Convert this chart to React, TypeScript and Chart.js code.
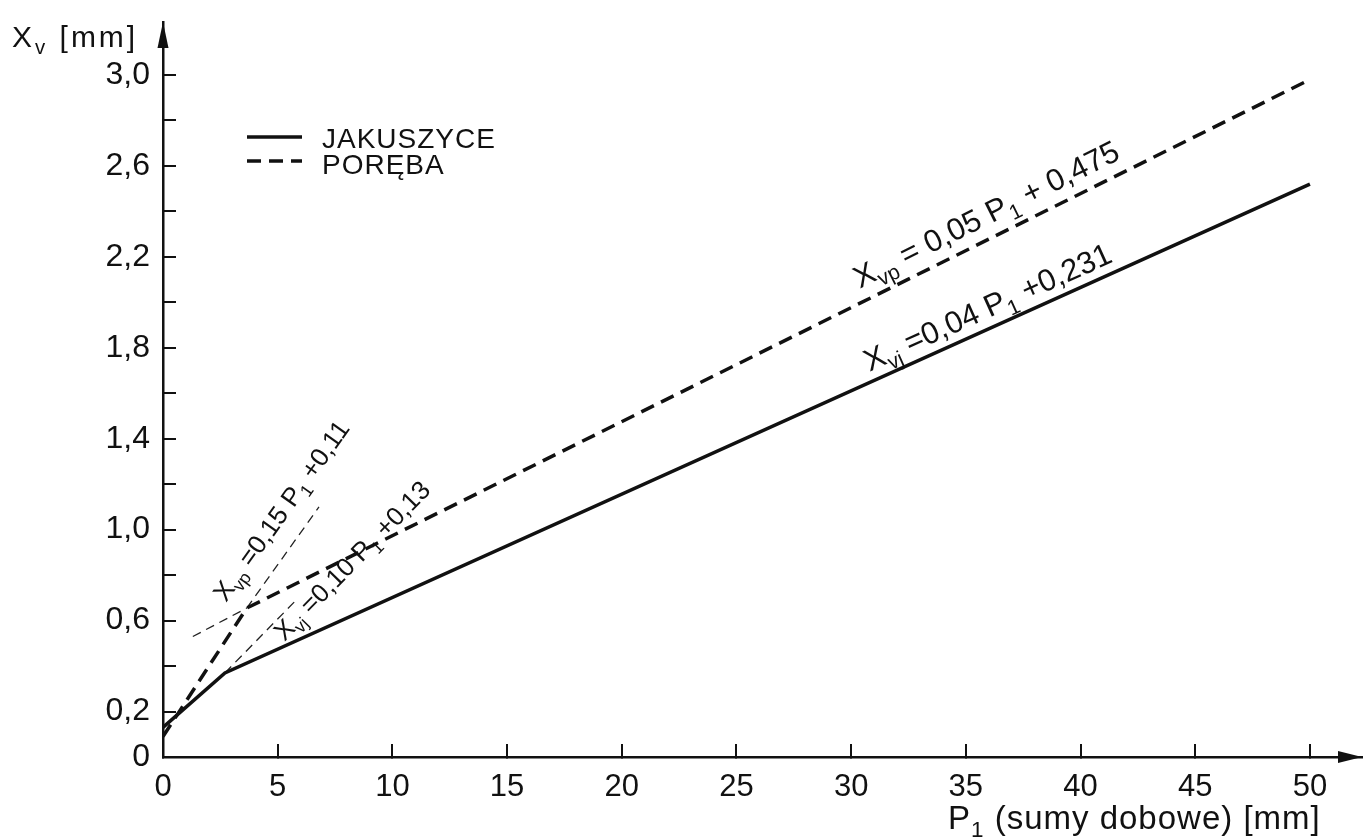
import React, { useEffect, useRef } from 'react';
import { Chart, registerables } from 'chart.js';

Chart.register(...registerables);

// ---- data ----
const xTickValues = [0, 5, 10, 15, 20, 25, 30, 35, 40, 45, 50];
const yTickValues = [0, 0.2, 0.4, 0.6, 0.8, 1.0, 1.2, 1.4, 1.6, 1.8, 2.0, 2.2, 2.4, 2.6, 2.8, 3.0];
const yLabeledValues = [0, 0.2, 0.6, 1.0, 1.4, 1.8, 2.2, 2.6, 3.0];

// Jakuszyce (solid)
const jakuszyceP = [0, 2.7, 50];
const jakuszyceX = [0.13, 0.37, 2.52];
// Poręba (dashed)
const porebaP = [0, 3.65, 50];
const porebaX = [0.09, 0.655, 2.98];
// thin dashed construction lines
const porebaSteepExtP = [3.65, 6.8];
const porebaSteepExtX = [0.655, 1.1];
const porebaFlatExtP = [1.3, 3.65];
const porebaFlatExtX = [0.53, 0.655];
const jakuszyceSteepExtP = [2.7, 5.9];
const jakuszyceSteepExtX = [0.37, 0.7];

const legendLabels = ['JAKUSZYCE', 'PORĘBA'];

type Part = [string, '' | 'sub'];
const eqPorebaFlat: Part[] = [['X', ''], ['vp', 'sub'], [' = 0,05 ', ''], ['P', ''], ['1', 'sub'], [' + 0,475', '']];
const eqJakFlat: Part[] = [['X', ''], ['vj', 'sub'], [' =0,04 ', ''], ['P', ''], ['1', 'sub'], [' +0,231', '']];
const eqPorebaSteep: Part[] = [['X', ''], ['vp', 'sub'], [' =0,15 ', ''], ['P', ''], ['1', 'sub'], [' +0,11', '']];
const eqJakSteep: Part[] = [['X', ''], ['vj', 'sub'], [' =0,10 ', ''], ['P', ''], ['1', 'sub'], [' +0,13', '']];
const yTitle: Part[] = [['X', ''], ['v', 'sub'], [' [mm]', '']];
const xTitle: Part[] = [['P', ''], ['1', 'sub'], [' (sumy dobowe) [mm]', '']];

const FONT = '"Liberation Sans", Arial, sans-serif';

const pts = (xs: number[], ys: number[]) => xs.map((x, i) => ({ x, y: ys[i] }));

function drawRich(ctx: CanvasRenderingContext2D, parts: Part[], x: number, y: number, angle: number, size: number, spacing = 0) {
  ctx.save();
  ctx.translate(x, y);
  ctx.rotate(angle);
  ctx.textBaseline = 'alphabetic';
  ctx.textAlign = 'left';
  ctx.fillStyle = '#111';
  (ctx as any).letterSpacing = spacing + 'px';
  let cx = 0;
  for (const [t, kind] of parts) {
    const fs = kind === 'sub' ? size * 0.68 : size;
    const dy = kind === 'sub' ? size * 0.24 : 0;
    ctx.font = `${fs}px ${FONT}`;
    ctx.fillText(t, cx, dy);
    cx += ctx.measureText(t).width;
  }
  ctx.restore();
}

const decorPlugin = {
  id: 'decor',
  afterDraw(chart: any) {
    const ctx: CanvasRenderingContext2D = chart.ctx;
    const xs = chart.scales.x;
    const ys = chart.scales.y;
    const ca = chart.chartArea;
    const px = (v: number) => xs.getPixelForValue(v);
    const py = (v: number) => ys.getPixelForValue(v);

    ctx.save();
    ctx.fillStyle = '#111';
    ctx.strokeStyle = '#111';
    // y arrow
    ctx.beginPath();
    ctx.moveTo(ca.left, ca.top);
    ctx.lineTo(ca.left + 5.5, ca.top + 26);
    ctx.lineTo(ca.left - 5.5, ca.top + 26);
    ctx.closePath();
    ctx.fill();
    // x arrow
    ctx.beginPath();
    ctx.moveTo(ca.right, ca.bottom);
    ctx.lineTo(ca.right - 24, ca.bottom - 6);
    ctx.lineTo(ca.right - 24, ca.bottom + 6);
    ctx.closePath();
    ctx.fill();

    // legend
    ctx.lineWidth = 3.5;
    ctx.setLineDash([]);
    ctx.beginPath();
    ctx.moveTo(247, 137);
    ctx.lineTo(302, 137);
    ctx.stroke();
    ctx.setLineDash([14, 8]);
    ctx.beginPath();
    ctx.moveTo(247, 161);
    ctx.lineTo(302, 161);
    ctx.stroke();
    ctx.setLineDash([]);
    ctx.font = `28px ${FONT}`;
    (ctx as any).letterSpacing = '1px';
    ctx.textAlign = 'left';
    ctx.textBaseline = 'alphabetic';
    ctx.fillText(legendLabels[0], 322, 148);
    ctx.fillText(legendLabels[1], 322, 174);
    (ctx as any).letterSpacing = '0px';
    ctx.restore();

    // axis titles
    drawRich(ctx, yTitle, 12, 47, 0, 30, 3);
    drawRich(ctx, xTitle, 948, 829, 0, 33, 1);

    // equations along lines
    const ang = (x1: number, y1: number, x2: number, y2: number) =>
      Math.atan2(py(y2) - py(y1), px(x2) - px(x1));
    const eqs = [
      { parts: eqPorebaFlat, at: [30.38, 2.06], a: ang(porebaP[1], porebaX[1], porebaP[2], porebaX[2]), size: 31 },
      { parts: eqJakFlat, at: [30.8, 1.695], a: ang(jakuszyceP[1], jakuszyceX[1], jakuszyceP[2], jakuszyceX[2]), size: 31 },
      { parts: eqPorebaSteep, at: [2.75, 0.677], a: ang(porebaSteepExtP[0], porebaSteepExtX[0], porebaSteepExtP[1], porebaSteepExtX[1]), size: 26 },
      { parts: eqJakSteep, at: [5.3, 0.506], a: ang(jakuszyceSteepExtP[0], jakuszyceSteepExtX[0], jakuszyceSteepExtP[1], jakuszyceSteepExtX[1]), size: 26 },
    ];
    for (const e of eqs) drawRich(ctx, e.parts, px(e.at[0]), py(e.at[1]), e.a, e.size);
  },
};

export default function App() {
  const ref = useRef<HTMLCanvasElement>(null);
  useEffect(() => {
    if (!ref.current) return;
    const thin = { borderColor: '#222', borderWidth: 1.3, borderDash: [9, 6], pointRadius: 0, fill: false };
    const chart = new Chart(ref.current, {
      type: 'line',
      data: {
        datasets: [
          { label: legendLabels[0], data: pts(jakuszyceP, jakuszyceX), borderColor: '#111', borderWidth: 3.5, pointRadius: 0, fill: false },
          { label: legendLabels[1], data: pts(porebaP, porebaX), borderColor: '#111', borderWidth: 3.5, borderDash: [14, 8], pointRadius: 0, fill: false },
          { label: 'ext1', data: pts(porebaSteepExtP, porebaSteepExtX), ...thin },
          { label: 'ext2', data: pts(porebaFlatExtP, porebaFlatExtX), ...thin },
          { label: 'ext3', data: pts(jakuszyceSteepExtP, jakuszyceSteepExtX), ...thin },
        ],
      },
      options: {
        animation: false,
        responsive: false,
        devicePixelRatio: 1,
        layout: { padding: { top: 22, right: 2, left: 0, bottom: 0 } },
        plugins: { legend: { display: false }, tooltip: { enabled: false } },
        scales: {
          x: {
            type: 'linear',
            min: 0,
            max: 52.27,
            afterBuildTicks: (s: any) => { s.ticks = xTickValues.map((v) => ({ value: v })); },
            afterFit: (s: any) => { s.height = 83; s.paddingLeft = 0; s.paddingRight = 0; },
            border: { display: true, color: '#111', width: 2.5 },
            grid: { drawOnChartArea: false, drawTicks: true, tickLength: -13, color: '#111', lineWidth: 2 },
            ticks: {
              autoSkip: false,
              maxRotation: 0,
              color: '#111',
              padding: 25,
              font: { family: FONT, size: 31 },
              callback: (v: any) => String(v),
            },
          },
          y: {
            type: 'linear',
            min: 0,
            max: 3.233,
            afterBuildTicks: (s: any) => { s.ticks = yTickValues.map((v) => ({ value: v })); },
            afterFit: (s: any) => { s.width = 163; s.paddingTop = 0; s.paddingBottom = 0; },
            border: { display: true, color: '#111', width: 2.5 },
            grid: { drawOnChartArea: false, drawTicks: true, tickLength: -13, color: '#111', lineWidth: 2 },
            ticks: {
              autoSkip: false,
              color: '#111',
              padding: 26,
              font: { family: FONT, size: 32 },
              callback: (v: any) => {
                const n = Number(v);
                if (!yLabeledValues.some((l) => Math.abs(l - n) < 1e-6)) return '';
                return n === 0 ? '0' : n.toFixed(1).replace('.', ',');
              },
            },
          },
        },
      },
      plugins: [decorPlugin],
    } as any);
    return () => chart.destroy();
  }, []);
  return (
    <div style={{ position: 'fixed', left: 0, top: 0, width: 1364, height: 840, background: '#fff' }}>
      <canvas ref={ref} width={1364} height={840} style={{ display: 'block', width: 1364, height: 840 }} />
    </div>
  );
}
